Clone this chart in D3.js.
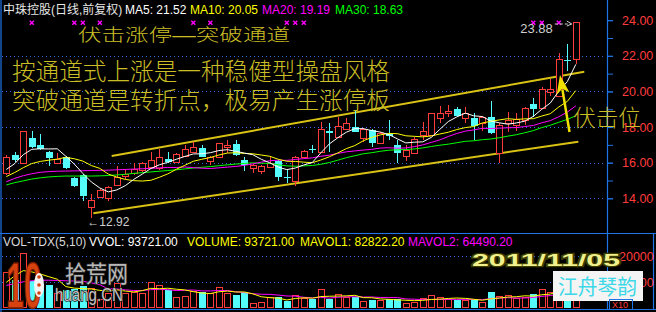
<!DOCTYPE html>
<html><head><meta charset="utf-8">
<script src="https://cdn.jsdelivr.net/npm/d3@7"></script>
<style>
html,body{margin:0;padding:0;background:#000;}
svg{display:block;}
text{font-family:"Liberation Sans","Noto Sans CJK SC",sans-serif;}
</style></head><body>
<svg id="c" width="656" height="312"></svg>
<script>
// ---------------- DATA ----------------
const openP  = [15.40,16.43,15.97,17.37,16.99,16.60,16.00,16.34,15.12,15.31,
                13.49,14.06,14.00,14.73,15.25,15.40,15.59,15.78,15.69,16.19,
                16.06,16.38,16.62,16.81,16.11,16.30,16.90,17.05,16.15,15.69,
                15.55,15.78,16.11,15.20,14.99,16.30,16.77,16.62,17.78,17.46,
                17.88,17.99,17.37,17.84,17.09,17.60,16.99,16.38,16.56,17.57,
                17.56,18.49,18.78,19.00,18.49,18.49,18.21,18.55,16.56,18.21,
                18.12,18.40,19.30,19.06,19.96,19.75,21.75,21.83];
const highP  = [16.45,16.60,17.80,17.80,17.61,16.65,16.53,16.40,15.20,15.35,
                14.22,14.50,14.70,15.83,15.63,15.97,16.05,16.62,16.75,16.58,
                16.55,16.99,17.18,16.99,16.40,17.12,17.28,17.28,16.34,15.95,
                15.85,16.34,16.15,15.63,16.35,16.70,16.99,18.30,18.21,18.55,
                18.49,18.96,17.92,17.88,17.72,18.40,17.28,16.99,17.46,18.30,
                18.80,19.19,19.24,19.15,19.11,18.78,18.60,19.48,18.20,18.87,
                18.81,19.15,19.62,20.27,20.69,22.18,22.67,23.88];
const lowP   = [15.30,16.04,15.90,16.85,16.70,15.81,15.95,15.65,14.65,13.87,
                12.92,14.00,13.87,14.70,15.10,15.30,15.50,15.70,15.60,16.00,
                16.00,16.35,16.60,16.30,15.87,16.25,16.56,16.40,15.55,15.40,
                15.36,15.75,14.99,14.84,14.69,16.25,16.53,16.60,16.62,17.40,
                17.85,17.70,17.18,16.87,17.05,17.28,16.00,16.11,16.50,17.28,
                17.50,18.21,18.55,18.60,18.25,17.28,17.80,17.60,16.00,17.74,
                17.80,18.12,18.58,19.00,19.75,19.70,21.17,21.54];
const closeP = [16.34,16.15,17.76,16.90,16.75,16.28,16.19,15.69,14.69,14.13,
                13.90,14.47,14.62,15.21,15.37,15.63,15.97,16.15,16.30,16.04,
                16.49,16.75,16.87,16.34,16.34,17.09,16.99,16.43,15.85,15.87,
                15.81,16.00,15.21,15.16,16.30,16.67,16.73,17.88,17.65,18.06,
                18.21,17.74,17.88,17.09,17.69,17.50,16.56,16.71,17.31,17.76,
                18.78,18.78,18.90,18.62,18.81,18.06,18.55,17.65,18.12,18.40,
                18.44,19.06,19.00,20.12,20.12,21.81,21.71,23.88];
const volume = [141000,108000,211500,105000,95000,88000,60000,70000,75000,85000,
                80000,35000,58000,98000,60000,64000,60000,102000,90000,70000,
                45000,47000,68000,64000,58000,81000,60000,51000,64000,22000,
                25000,42000,42000,29000,51000,38500,34600,73000,34600,55000,
                42300,44600,29200,32000,32000,34600,34600,21500,24200,38500,
                50000,42300,34600,32000,32000,32000,24200,61500,47300,51000,
                38500,42300,55000,73000,64000,92400,91000,93721];
const ma5  = [15.62,15.95,16.45,16.75,16.78,16.77,16.78,16.36,15.92,15.40,
              14.92,14.58,14.36,14.47,14.71,15.06,15.36,15.67,15.88,16.02,
              16.19,16.35,16.49,16.50,16.56,16.68,16.73,16.64,16.54,16.45,
              16.19,15.99,15.75,15.61,15.70,15.87,16.01,16.55,17.05,17.40,
              17.71,17.91,17.91,17.80,17.72,17.58,17.34,17.11,17.15,17.17,
              17.42,17.87,18.31,18.57,18.78,18.63,18.59,18.34,18.24,18.16,
              18.23,18.33,18.60,19.00,19.35,20.02,20.55,21.52];
const ma10 = [15.22,15.45,15.72,15.95,16.07,16.14,16.20,16.30,16.22,16.09,
              15.84,15.68,15.36,15.19,15.06,14.99,14.97,15.01,15.18,15.37,
              15.63,15.85,16.08,16.19,16.29,16.43,16.54,16.56,16.52,16.50,
              16.43,16.36,16.19,16.08,16.07,16.03,16.00,16.15,16.33,16.55,
              16.79,16.96,17.23,17.42,17.56,17.64,17.63,17.51,17.48,17.45,
              17.50,17.61,17.71,17.86,17.97,18.03,18.23,18.32,18.40,18.47,
              18.43,18.46,18.47,18.62,18.75,19.13,19.44,20.05];
const ma20 = [14.93,15.12,15.27,15.38,15.46,15.50,15.52,15.53,15.54,15.55,
              15.56,15.57,15.58,15.60,15.62,15.64,15.66,15.68,15.71,15.73,
              15.73,15.76,15.72,15.69,15.67,15.71,15.75,15.79,15.85,15.93,
              16.03,16.11,16.14,16.13,16.18,16.23,16.27,16.36,16.42,16.52,
              16.61,16.66,16.71,16.75,16.82,16.84,16.81,16.83,16.90,17.00,
              17.14,17.28,17.47,17.64,17.77,17.84,17.93,17.92,17.94,17.96,
              17.97,18.03,18.09,18.24,18.36,18.58,18.84,19.19];
const ma30 = [14.75,14.88,14.98,15.08,15.15,15.20,15.23,15.25,15.25,15.25,
              15.25,15.26,15.28,15.31,15.35,15.40,15.44,15.48,15.52,15.56,
              15.60,15.65,15.70,15.74,15.78,15.83,15.88,15.92,15.96,15.99,
              15.97,15.96,15.88,15.82,15.80,15.82,15.84,15.91,16.01,16.14,
              16.28,16.39,16.50,16.56,16.64,16.70,16.72,16.74,16.77,16.83,
              16.91,16.98,17.04,17.12,17.20,17.23,17.29,17.33,17.40,17.49,
              17.57,17.68,17.80,17.97,18.10,18.27,18.43,18.63];
const mavol1 = [100000,125000,145000,140000,132100,121500,111900,83600,77600,75600,
                74000,69000,66600,71200,66200,63000,68000,76800,75200,77200,
                73400,70800,64000,58800,56400,63600,66200,62800,62800,55600,
                44400,40800,39000,32000,37800,40500,39000,45200,46300,47100,
                47900,49900,41100,40600,36000,34500,32500,30900,29400,30700,
                33800,35300,37900,39500,38200,34600,31000,36300,39400,43200,
                44500,48100,46800,52000,54600,65300,75100,82822];
const mavol2 = [88000,95000,102000,106000,108000,108000,107000,106000,105000,103900,
                97800,90500,75100,74400,70900,68500,68500,71700,73200,71700,
                68200,69400,70400,67000,66800,68500,68500,63400,60800,56000,
                54000,53500,50900,47400,46700,42500,39900,42100,39200,42500,
                44200,44500,43200,43500,41600,41200,41200,36000,35000,33400,
                34100,33900,34400,34400,34400,34200,33100,37100,39400,40700,
                39500,39500,41600,45700,48900,54900,61600,64490];
const priceTicks = [14,16,18,20,22,24];
const priceMinorTicks = [14,15,16,17,18,19,20,21,22,23,24];
const priceGrid = [14,16,18,20,22];
const volTicks = [100000,200000];
const volTickLabels = ["10000","20000"];
const markerDays = [4,9,10,12,23,25,34,35,36,63,64,66];
// channel lines: [day, price]
const channelUpper = [[13.4,16.38],[69.0,21.11]];
const channelLower = [[11.24,13.16],[68.3,17.18]];
// arrow annotation: tail and tip [day, price]
const arrowPts = [[67.26,17.72],[66.14,20.93]];
const headerMain = [
  {t:"中珠控股(日线,前复权)", c:"#e6e6e6", x:3},
  {t:"MA5: 21.52", c:"#ffffff", x:125},
  {t:"MA10: 20.05", c:"#ffff00", x:190},
  {t:"MA20: 19.19", c:"#ff00ff", x:262},
  {t:"MA30: 18.63", c:"#00ff00", x:335}];
const headerVol = [
  {t:"VOL-TDX(5,10)", c:"#d8d8d8", x:3},
  {t:"VVOL: 93721.00", c:"#ffffff", x:89},
  {t:"VOLUME: 93721.00", c:"#ffff00", x:187},
  {t:"MAVOL1: 82822.20", c:"#ffff00", x:300},
  {t:"MAVOL2: 64490.20", c:"#ff00ff", x:408}];
const notes = ["伏击涨停—突破通道","按通道式上涨是一种稳健型操盘风格","突破通道是转折点，极易产生涨停板"];

// ---------------- SETUP ----------------
const svg = d3.select("#c");
const W = 656, H = 312;
const RED = "#ff3c3c", CYAN = "#54fcfc", BLUE = "#1f74e6", GRID = "#2a6ad8";
const NOTE = "#cabe26";
const N = closeP.length;
const days = d3.range(1, N + 1);
const x = d3.scaleLinear().domain([1, N]).range([6.3, 575.8]);
const y = d3.scaleLinear().domain([14, 24]).range([198.3, 20.2]);
const yv = d3.scaleLinear().domain([0, 200000]).range([308.3, 256.3]);
const AXX = 607, VTOP = 233, VBOT = 309.5;

svg.append("rect").attr("width", W).attr("height", H).attr("fill", "#000");

const defs = svg.append("defs");
defs.append("clipPath").attr("id", "cp").append("rect").attr("x", 2).attr("y", 0).attr("width", AXX - 2).attr("height", VTOP);
defs.append("clipPath").attr("id", "cv").append("rect").attr("x", 2).attr("y", VTOP + 1).attr("width", AXX - 2).attr("height", VBOT - VTOP - 1);

// grid
svg.append("g").selectAll("line").data(priceGrid).join("line")
  .attr("x1", 2).attr("x2", AXX - 1)
  .attr("y1", d => Math.round(y(d)) + 0.5).attr("y2", d => Math.round(y(d)) + 0.5)
  .attr("stroke", GRID).attr("stroke-dasharray", "1,3");
svg.append("g").selectAll("line").data(volTicks).join("line")
  .attr("x1", 2).attr("x2", AXX - 1)
  .attr("y1", d => Math.round(yv(d)) + 0.5).attr("y2", d => Math.round(yv(d)) + 0.5)
  .attr("stroke", GRID).attr("stroke-dasharray", "1,3");

// frame
const frame = svg.append("g").attr("stroke", BLUE).attr("stroke-width", 1.2);
frame.append("line").attr("x1", 1).attr("x2", 1).attr("y1", 0).attr("y2", H);
frame.append("line").attr("x1", AXX + 0.5).attr("x2", AXX + 0.5).attr("y1", 0).attr("y2", VBOT);
frame.append("line").attr("x1", 0).attr("x2", W).attr("y1", VTOP + 0.5).attr("y2", VTOP + 0.5);
frame.append("line").attr("x1", 0).attr("x2", W).attr("y1", VBOT).attr("y2", VBOT);
frame.append("line").attr("x1", 653.5).attr("x2", 653.5).attr("y1", VTOP).attr("y2", VBOT);

// price axis
const axG = svg.append("g").attr("transform", `translate(${AXX + 1},0)`)
  .call(d3.axisRight(y).tickValues(priceTicks).tickSize(5).tickPadding(9).tickFormat(d3.format(".2f")));
axG.select(".domain").remove();
axG.selectAll("line").attr("stroke", BLUE);
axG.selectAll("text").attr("fill", RED).attr("font-size", 12.5).attr("font-family", "Liberation Sans");
const axM = svg.append("g").attr("transform", `translate(${AXX + 1},0)`)
  .call(d3.axisRight(y).tickValues(priceMinorTicks).tickSize(5).tickFormat(""));
axM.select(".domain").remove();
axM.selectAll("line").attr("stroke", BLUE);

// volume axis
const avG = svg.append("g").attr("transform", `translate(${AXX + 1},0)`)
  .call(d3.axisRight(yv).tickValues(volTicks).tickSize(5).tickPadding(6).tickFormat((d, i) => volTickLabels[i]));
avG.select(".domain").remove();
avG.selectAll("line").attr("stroke", BLUE);
avG.selectAll("text").attr("fill", RED).attr("font-size", 12.5).attr("font-family", "Liberation Sans");

// ---------------- CANDLES ----------------
const candles = days.map((d, i) => ({d, o: openP[i], h: highP[i], l: lowP[i], c: closeP[i], v: volume[i], up: closeP[i] >= openP[i]}));
const gP = svg.append("g").attr("clip-path", "url(#cp)");

// channel lines
const chLine = d3.line().x(p => x(p[0])).y(p => y(p[1]));
[channelUpper, channelLower].forEach(ch => {
  gP.append("path").attr("d", chLine(ch)).attr("fill", "none")
    .attr("stroke", "#d9c214").attr("stroke-width", 2);
});

const wick = [];
candles.forEach(k => {
  const cx = Math.round(x(k.d));
  const yt = Math.round(y(Math.max(k.o, k.c))), yb = Math.round(y(Math.min(k.o, k.c)));
  const yh = Math.round(y(k.h)), yl = Math.round(y(k.l));
  const col = k.up ? RED : CYAN;
  if (k.up) {
    if (yh < yt) wick.push({x: cx + 0.5, y1: yh, y2: yt, col});
    if (yl > yb) wick.push({x: cx + 0.5, y1: yb + 1, y2: yl, col});
  } else {
    wick.push({x: cx + 0.5, y1: yh, y2: yl, col});
  }
  k.cx = cx; k.yt = yt; k.yb = yb; k.col = col;
});
gP.append("g").selectAll("line").data(wick).join("line")
  .attr("x1", d => d.x).attr("x2", d => d.x).attr("y1", d => d.y1).attr("y2", d => d.y2)
  .attr("stroke", d => d.col);
gP.append("g").selectAll("rect").data(candles.filter(k => k.up)).join("rect")
  .attr("x", k => k.cx - 3 + 0.5).attr("y", k => k.yt + 0.5)
  .attr("width", 6).attr("height", k => Math.max(k.yb - k.yt, 1))
  .attr("fill", "#000").attr("stroke", RED);
gP.append("g").selectAll("rect").data(candles.filter(k => !k.up)).join("rect")
  .attr("x", k => k.cx - 3).attr("y", k => k.yt)
  .attr("width", 7).attr("height", k => Math.max(k.yb - k.yt, 1))
  .attr("fill", CYAN);

// moving averages
const maLine = d3.line().x((d, i) => x(i + 1)).y(d => y(d));
[[ma30, "#00ff00"], [ma20, "#ff00ff"], [ma10, "#ffff00"], [ma5, "#ffffff"]].forEach(([s, c]) => {
  gP.append("path").attr("d", maLine(s)).attr("fill", "none").attr("stroke", c).attr("stroke-width", 1);
});

// info markers
const mk = svg.append("g").attr("stroke", "#ff00ff").attr("stroke-width", 1.5);
markerDays.forEach(d => {
  const cx = x(d), cy = 22.7;
  mk.append("path").attr("d", `M${cx - 2},${cy - 2}L${cx + 2},${cy + 2}M${cx - 2},${cy + 2}L${cx + 2},${cy - 2}`);
});

// high / low labels
const iHigh = d3.maxIndex(highP), iLow = d3.minIndex(lowP);
svg.append("text").attr("x", x(iHigh + 1) - 23).attr("y", 33).attr("text-anchor", "end")
  .attr("fill", "#cfcfcf").attr("font-size", 13).text(highP[iHigh].toFixed(2));
svg.append("path")
  .attr("d", `M${x(iHigh + 1) - 21},24H${x(iHigh + 1) - 5}`)
  .attr("stroke", "#cfcfcf").attr("stroke-dasharray", "3,2").attr("fill", "none");
svg.append("path")
  .attr("d", `M${x(iHigh + 1) - 9},21L${x(iHigh + 1) - 4},24L${x(iHigh + 1) - 9},26`)
  .attr("stroke", "#cfcfcf").attr("fill", "none");
svg.append("text").attr("x", x(iLow + 1) - 4).attr("y", y(lowP[iLow]) + 8)
  .attr("fill", "#cfcfcf").attr("font-size", 12).text("←" + lowP[iLow].toFixed(2));

// ---------------- VOLUME ----------------
const gV = svg.append("g").attr("clip-path", "url(#cv)");
const base = Math.round(yv(0));
gV.append("g").selectAll("rect").data(candles.filter(k => k.up)).join("rect")
  .attr("x", k => k.cx - 3 + 0.5).attr("y", k => Math.round(yv(k.v)) + 0.5)
  .attr("width", 6).attr("height", k => Math.max(base - Math.round(yv(k.v)) - 1, 1))
  .attr("fill", "#000").attr("stroke", RED);
gV.append("g").selectAll("rect").data(candles.filter(k => !k.up)).join("rect")
  .attr("x", k => k.cx - 3).attr("y", k => Math.round(yv(k.v)))
  .attr("width", 7).attr("height", k => base - Math.round(yv(k.v)))
  .attr("fill", CYAN);
const mvLine = d3.line().x((d, i) => x(i + 1)).y(d => yv(d));
[[mavol2, "#ff00ff"], [mavol1, "#ffff00"]].forEach(([s, c]) => {
  gV.append("path").attr("d", mvLine(s)).attr("fill", "none").attr("stroke", c).attr("stroke-width", 1);
});

// ---------------- HEADERS ----------------
headerMain.forEach(h => svg.append("text").attr("x", h.x).attr("y", 14).attr("fill", h.c).attr("font-size", 12).text(h.t));
headerVol.forEach(h => svg.append("text").attr("x", h.x).attr("y", 246).attr("fill", h.c).attr("font-size", 12).text(h.t));

// ---------------- ANNOTATIONS ----------------
const noteStyle = sel => sel.attr("fill", NOTE).attr("font-family", "Noto Sans CJK SC").attr("font-weight", 300)
  .attr("lengthAdjust", "spacingAndGlyphs");
noteStyle(svg.append("text").attr("x", 78).attr("y", 40.5).attr("font-size", 17).attr("textLength", 212).text(notes[0]));
noteStyle(svg.append("text").attr("x", 12).attr("y", 80).attr("font-size", 23.5).attr("textLength", 378).text(notes[1]));
noteStyle(svg.append("text").attr("x", 12).attr("y", 108.5).attr("font-size", 23.5).attr("textLength", 378).text(notes[2]));
noteStyle(svg.append("text").attr("x", 573).attr("y", 125.5).attr("font-size", 23).attr("textLength", 68).text("伏击位"));

// yellow arrow
{
  const [tx, ty] = [x(arrowPts[0][0]), y(arrowPts[0][1])];
  const [hx, hy] = [x(arrowPts[1][0]), y(arrowPts[1][1])];
  const dx = hx - tx, dy = hy - ty, L = Math.hypot(dx, dy);
  const ux = dx / L, uy = dy / L, px = -uy, py = ux;
  const hl = 19, hw = 6.5;
  const bx = hx - ux * hl, by = hy - uy * hl;
  svg.append("line").attr("x1", tx).attr("y1", ty).attr("x2", bx + ux * 4).attr("y2", by + uy * 4)
    .attr("stroke", "#f0e000").attr("stroke-width", 2.5);
  svg.append("path")
    .attr("d", `M${hx},${hy}L${bx + px * hw},${by + py * hw}L${bx + ux * 5},${by + uy * 5}L${bx - px * hw},${by - py * hw}Z`)
    .attr("fill", "#f0e000");
}

// ---------------- WATERMARKS ----------------
const wm = svg.append("g");
const logo = wm.append("g").attr("transform", "translate(6,308) scale(0.5,1)");
logo.append("text").attr("x", 0).attr("y", 0).attr("font-family", "DejaVu Sans").attr("font-weight", "bold")
  .attr("font-size", 64).attr("fill", "#d8420e").attr("stroke", "#7a1c00").attr("stroke-width", 1.5).text("10");
wm.append("ellipse").attr("cx", 39).attr("cy", 285).attr("rx", 5).attr("ry", 12).attr("fill", "#f4f4f4");
[[39, 277], [39, 285], [39, 293]].forEach(([a, b]) => wm.append("circle").attr("cx", a).attr("cy", b).attr("r", 1.8).attr("fill", "#d8420e"));
wm.append("text").attr("x", 65).attr("y", 282).attr("font-family", "Noto Sans CJK SC").attr("font-size", 23)
  .attr("textLength", 63).attr("lengthAdjust", "spacingAndGlyphs")
  .attr("fill", "#b8b8b8").attr("stroke", "#2a2a2a").attr("stroke-width", 1.5).attr("paint-order", "stroke").text("拾荒网");
wm.append("text").attr("x", 55).attr("y", 301).attr("font-size", 19)
  .attr("textLength", 68).attr("lengthAdjust", "spacingAndGlyphs")
  .attr("fill", "#c4c4c4").attr("stroke", "#1a1a1a").attr("stroke-width", 1.5).attr("paint-order", "stroke").text("huang.CN");
wm.append("text").attr("x", 472).attr("y", 266).attr("font-family", "DejaVu Sans").attr("font-weight", "bold")
  .attr("font-size", 17).attr("textLength", 148).attr("lengthAdjust", "spacingAndGlyphs")
  .attr("fill", "#f0f08c").attr("stroke", "#3c3c00").attr("stroke-width", 2.5).attr("paint-order", "stroke").text("2011/11/05");
wm.append("rect").attr("x", 553).attr("y", 271).attr("width", 90).attr("height", 30).attr("fill", "#f4f4f4");
wm.append("text").attr("x", 558).attr("y", 294).attr("font-family", "Noto Sans CJK SC").attr("font-size", 21)
  .attr("textLength", 79).attr("lengthAdjust", "spacingAndGlyphs").attr("fill", "#3cd8e8").text("江舟琴韵");
wm.append("rect").attr("x", 609.5).attr("y", 299.5).attr("width", 23).attr("height", 10).attr("fill", "none").attr("stroke", BLUE);
wm.append("text").attr("x", 612).attr("y", 308).attr("font-size", 9).attr("fill", RED).text("X10");
</script></body></html>
